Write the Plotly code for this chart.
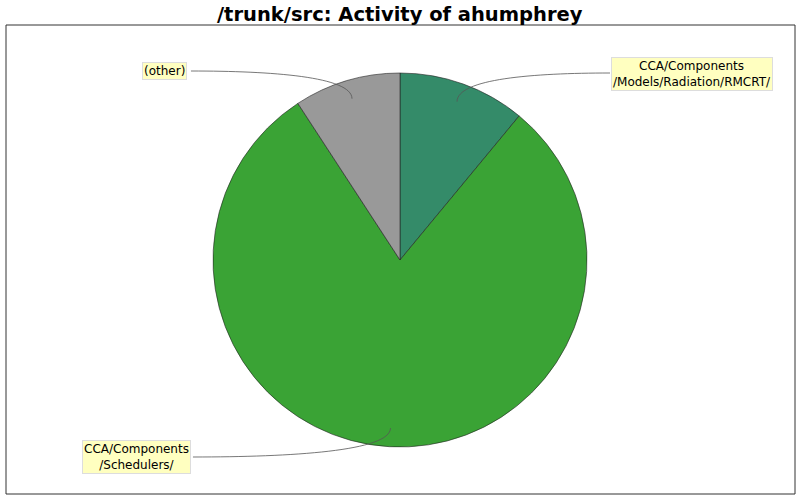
import math
import plotly.graph_objects as go

# slice data (share of activity, %), clockwise from 12 o'clock
labels = ["CCA/Components<br>/Models/Radiation/RMCRT/", "CCA/Components<br>/Schedulers/", "(other)"]
values = [11.0, 79.8, 9.2]
colors = ["#348B69", "#3AA335", "#999999"]

# label box positions in pixels (x, y)
label_pos = [(692, 74), (136, 457), (164, 71)]
line_start = [(610, 73), (193, 457), (191, 71)]

W, H = 800, 500
cx, cy, r = 400, 260, 187


def px(x, y):
    return "%.4f %.4f" % (x / W, 1 - y / H)


fig = go.Figure()
fig.add_trace(go.Pie(
    labels=labels,
    values=values,
    sort=False,
    direction="clockwise",
    rotation=0,
    textinfo="none",
    hoverinfo="label+percent",
    marker=dict(colors=colors, line=dict(color="#222222", width=0.6)),
    domain=dict(x=[(cx - r) / W, (cx + r) / W], y=[(H - cy - r) / H, (H - cy + r) / H]),
    showlegend=False,
))

shapes = [dict(type="rect", xref="paper", yref="paper",
               x0=6 / W, x1=795 / W, y0=1 - 494 / H, y1=1 - 25 / H,
               line=dict(color="#333333", width=1))]
annotations = [dict(text="<b>/trunk/src: Activity of ahumphrey</b>", x=0.5, y=1 - 14 / H,
                    xref="paper", yref="paper", showarrow=False,
                    xanchor="center", yanchor="middle",
                    font=dict(size=19.5, color="black", family="DejaVu Sans"))]

total = sum(values)
acc = 0
for i, v in enumerate(values):
    mid = (acc + v / 2) / total * 2 * math.pi
    acc += v
    ax = cx + 0.9 * r * math.sin(mid)
    ay = cy - 0.9 * r * math.cos(mid)
    sx, sy = line_start[i]
    # curve: horizontal from label, bending into the slice
    c1x = ax + (sx - ax) * 0.5
    path = "M %s C %s %s %s" % (px(sx, sy), px(c1x, sy), px(ax, sy + (ay - sy) * 0.2), px(ax, ay))
    shapes.append(dict(type="path", xref="paper", yref="paper", path=path,
                       line=dict(color="#555555", width=0.8)))
    lx, ly = label_pos[i]
    annotations.append(dict(text=labels[i], x=lx / W, y=1 - ly / H, xref="paper", yref="paper",
                            showarrow=False, bgcolor="#FFFFC0", bordercolor="#DDDDDD",
                            xanchor="center", yanchor="middle",
                            borderwidth=1, borderpad=1,
                            font=dict(size=12, color="black", family="DejaVu Sans")))

fig.update_layout(
    width=W, height=H,
    margin=dict(l=0, r=0, t=0, b=0),
    paper_bgcolor="white",
    plot_bgcolor="white",
    shapes=shapes,
    annotations=annotations,
)
fig.write_html("out.html", config={"displayModeBar": False},
               post_script="document.body.style.margin='0';")
